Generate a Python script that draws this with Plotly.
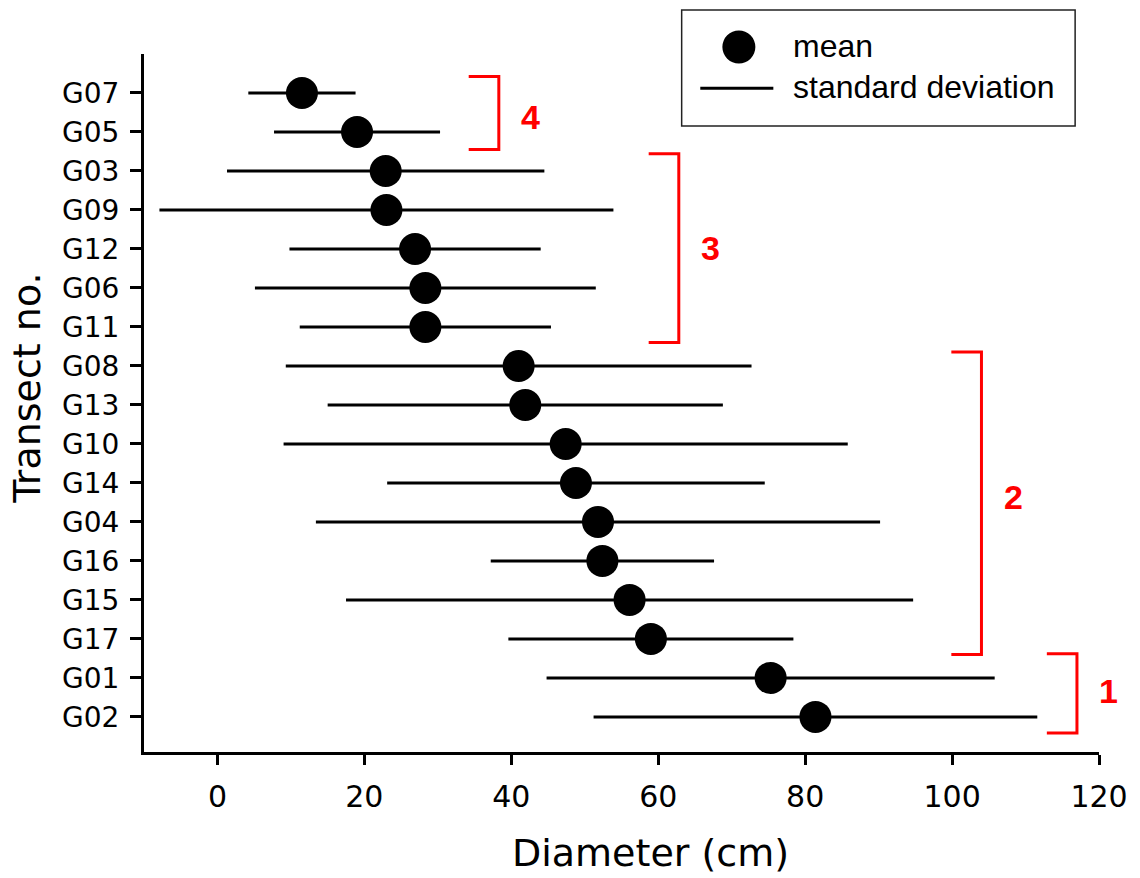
import plotly.graph_objects as go

transects = ["G07", "G05", "G03", "G09", "G12", "G06", "G11", "G08", "G13",
             "G10", "G14", "G04", "G16", "G15", "G17", "G01", "G02"]
mean_cm = [11.5, 19.0, 22.9, 23.0, 26.9, 28.3, 28.3, 41.0, 41.9,
           47.4, 48.8, 51.8, 52.4, 56.1, 59.0, 75.3, 81.4]
sd_cm = [7.3, 11.3, 21.6, 30.9, 17.1, 23.2, 17.1, 31.7, 26.9,
         38.4, 25.7, 38.4, 15.2, 38.6, 19.4, 30.5, 30.2]
x_ticks = [0, 20, 40, 60, 80, 100, 120]

# group brackets: label, first row, last row
group_labels = ["4", "3", "2", "1"]
group_first = ["G07", "G03", "G08", "G01"]
group_last = ["G05", "G11", "G17", "G02"]

rows = list(range(len(transects)))
X_MIN, X_MAX = -10, 120
FONT = "Liberation Sans, Arial, sans-serif"
FONT_AX = "DejaVu Sans, Arial, sans-serif"
RED = "#ff0000"

fig = go.Figure()
fig.add_trace(go.Scatter(
    x=mean_cm, y=rows, mode="markers",
    marker=dict(size=32, color="black"),
    error_x=dict(type="data", array=sd_cm, symmetric=True,
                 color="black", thickness=3, width=0),
    showlegend=False, cliponaxis=False,
))

# bracket geometry (x of spine, vertical overhang top/bottom, label shift)
br_x = [38.3, 62.8, 104.0, 117.0]
br_top = [0.42, 0.44, 0.36, 0.62]
br_bot = [0.45, 0.40, 0.40, 0.41]
lab_dy = [0.1, 0.0, -0.17, -0.05]
shapes = []
annotations = []
for lab, f, l, bx, tp, bt, dy in zip(group_labels, group_first, group_last,
                                     br_x, br_top, br_bot, lab_dy):
    y0 = transects.index(f) - tp
    y1 = transects.index(l) + bt
    xl = bx - 4.1
    shapes.append(dict(type="path", xref="x", yref="y",
                       path=f"M {xl},{y0} L {bx},{y0} L {bx},{y1} L {xl},{y1}",
                       line=dict(color=RED, width=3)))
    annotations.append(dict(x=(bx + 4.3 - X_MIN) / (X_MAX - X_MIN), y=(y0 + y1) / 2 + dy,
                            xref="paper", yref="y",
                            text=f"<b>{lab}</b>", showarrow=False,
                            font=dict(family=FONT, size=34, color=RED),
                            xanchor="center", yanchor="middle"))

# legend box drawn manually
dx = 0.008
shapes.append(dict(type="rect", xref="paper", yref="paper",
                   x0=0.555 + dx, x1=0.967 + dx, y0=0.897, y1=1.063,
                   line=dict(color="#222222", width=1.5), fillcolor="white"))
shapes.append(dict(type="circle", xref="paper", yref="paper",
                   xsizemode="pixel", ysizemode="pixel",
                   xanchor=0.6149 + dx, yanchor=1.010,
                   x0=-16.5, x1=16.5, y0=-16.5, y1=16.5,
                   fillcolor="black", line=dict(color="black", width=0)))
shapes.append(dict(type="line", xref="paper", yref="paper",
                   x0=0.5745 + dx, x1=0.651 + dx, y0=0.951, y1=0.951,
                   line=dict(color="black", width=3)))
annotations.append(dict(x=0.669 + dx, y=1.012, xref="paper", yref="paper",
                        text="mean", showarrow=False, xanchor="left", yanchor="middle",
                        font=dict(family=FONT, size=32, color="black")))
annotations.append(dict(x=0.669 + dx, y=0.953, xref="paper", yref="paper",
                        text="standard deviation", showarrow=False, xanchor="left",
                        yanchor="middle", font=dict(family=FONT, size=32, color="black")))

# axis titles
annotations.append(dict(x=0.530, y=-0.1795, xref="paper", yref="paper",
                        text="Diameter (cm)", showarrow=False, xanchor="center",
                        yanchor="bottom", font=dict(family=FONT_AX, size=38, color="black")))
annotations.append(dict(x=-0.122, y=0.521, xref="paper", yref="paper",
                        text="Transect no.", showarrow=False, textangle=-90,
                        xanchor="center", yanchor="middle",
                        font=dict(family=FONT_AX, size=38, color="black")))

fig.update_layout(
    width=1140, height=878,
    margin=dict(l=144, r=30, t=54, b=126),
    paper_bgcolor="white", plot_bgcolor="white",
    shapes=shapes, annotations=annotations,
    font=dict(family=FONT, color="black"),
)
fig.update_xaxes(range=[X_MIN, X_MAX], tickvals=x_ticks, showgrid=False, zeroline=False,
                 showline=True, linecolor="black", linewidth=3,
                 ticks="outside", ticklen=10, tickwidth=2.5, tickcolor="black",
                 tickfont=dict(family=FONT_AX, size=30, color="black"),
                 ticklabelstandoff=6)
fig.update_yaxes(range=[16.9, -1.0], tickvals=rows, ticktext=transects,
                 showgrid=False, zeroline=False,
                 showline=True, linecolor="black", linewidth=3,
                 ticks="outside", ticklen=11, tickwidth=2.5, tickcolor="black",
                 tickfont=dict(family=FONT_AX, size=28, color="black"),
                 ticklabelstandoff=5)

fig.write_html("out.html", config={"displayModeBar": False},
               post_script="document.body.style.margin='0';document.body.style.padding='0';")
